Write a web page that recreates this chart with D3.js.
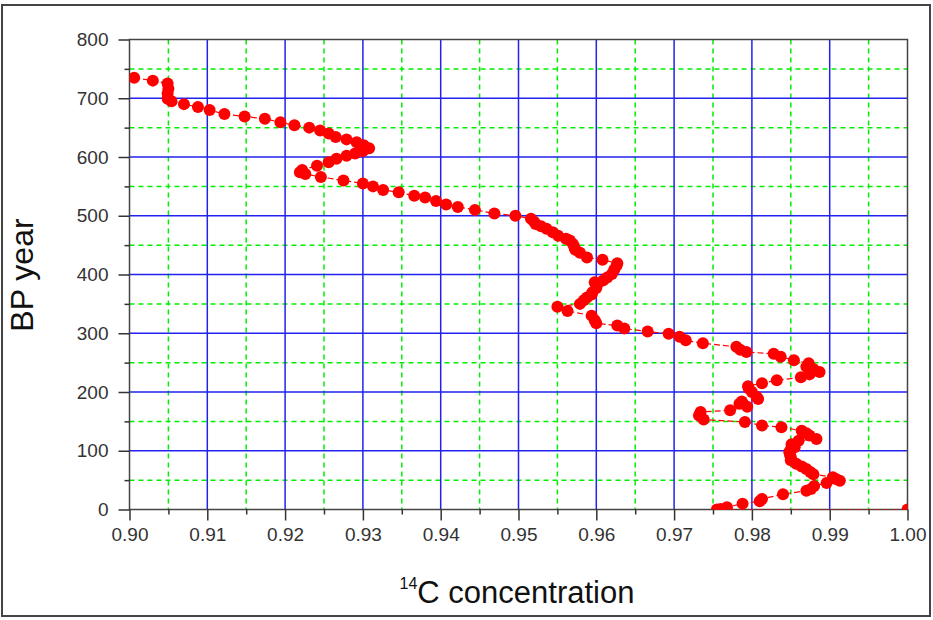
<!DOCTYPE html>
<html>
<head>
<meta charset="utf-8">
<script src="https://cdn.jsdelivr.net/npm/d3@7"></script>
<style>
  body { margin: 0; background: #fff; }
  svg { display: block; font-family: "Liberation Sans", Arial, sans-serif; }
</style>
</head>
<body>
<div id="chart"></div>
<script>
// BP year (oldest first)
var years = [735, 730, 725, 716, 708, 699, 695, 690, 685, 680, 673, 669, 665, 659, 654, 650, 645, 640, 634, 630,
  625, 620, 615, 610, 606, 602, 597, 591, 585, 578, 574, 571, 566, 560, 555, 550, 544, 540, 534, 531,
  525, 519, 515, 510, 504, 500, 495, 490, 486, 482, 478, 472, 466, 461, 458, 452, 446, 442, 437, 429,
  425, 419, 415, 408, 401, 395, 390, 387, 382, 377, 370, 366, 361, 356, 350, 345, 338, 330, 322, 317,
  313, 308, 303, 299, 294, 288, 283, 277, 272, 268, 265, 260, 254, 249, 243, 239, 234, 230, 225, 220,
  215, 210, 206, 200, 192, 188, 184, 180, 175, 169, 166, 160, 153, 149, 143, 140, 134, 130, 126, 120,
  117, 111, 106, 102, 98, 93, 89, 84, 78, 73, 69, 64, 60, 55, 52, 49, 45, 40, 35, 32,
  26, 18, 14, 10, 4, 1, 0, 0];

// 14C concentration
var conc = [0.9006, 0.9030, 0.9049, 0.9050, 0.9049, 0.9049, 0.9054, 0.9070, 0.9088, 0.9103, 0.9122, 0.9148, 0.9174, 0.9194, 0.9212, 0.9231, 0.9245, 0.9256, 0.9265, 0.9279,
  0.9292, 0.9301, 0.9308, 0.9300, 0.9290, 0.9279, 0.9266, 0.9256, 0.9241, 0.9222, 0.9219, 0.9226, 0.9246, 0.9275, 0.9300, 0.9313, 0.9326, 0.9346, 0.9366, 0.9380,
  0.9394, 0.9407, 0.9422, 0.9444, 0.9469, 0.9496, 0.9516, 0.9520, 0.9522, 0.9529, 0.9536, 0.9544, 0.9551, 0.9561, 0.9566, 0.9570, 0.9572, 0.9573, 0.9579, 0.9588,
  0.9608, 0.9627, 0.9626, 0.9623, 0.9620, 0.9614, 0.9609, 0.9598, 0.9601, 0.9600, 0.9595, 0.9594, 0.9588, 0.9584, 0.9579, 0.9550, 0.9563, 0.9594, 0.9598, 0.9600,
  0.9627, 0.9636, 0.9666, 0.9693, 0.9707, 0.9715, 0.9737, 0.9780, 0.9785, 0.9793, 0.9828, 0.9837, 0.9854, 0.9873, 0.9870, 0.9879, 0.9887, 0.9874, 0.9863, 0.9832,
  0.9813, 0.9795, 0.9796, 0.9800, 0.9806, 0.9808, 0.9787, 0.9784, 0.9794, 0.9772, 0.9734, 0.9732, 0.9738, 0.9791, 0.9813, 0.9838, 0.9864, 0.9870, 0.9874, 0.9883,
  0.9860, 0.9851, 0.9855, 0.9850, 0.9848, 0.9849, 0.9850, 0.9850, 0.9857, 0.9864, 0.9870, 0.9875, 0.9879, 0.9904, 0.9908, 0.9913, 0.9896, 0.9880, 0.9876, 0.9870,
  0.9840, 0.9813, 0.9810, 0.9788, 0.9768, 0.9760, 0.9755, 1.0000];

var xMajor = [0.90, 0.91, 0.92, 0.93, 0.94, 0.95, 0.96, 0.97, 0.98, 0.99, 1.00];
var xMinor = [0.905, 0.915, 0.925, 0.935, 0.945, 0.955, 0.965, 0.975, 0.985, 0.995];
var yMajor = [0, 100, 200, 300, 400, 500, 600, 700, 800];
var yMinor = [50, 150, 250, 350, 450, 550, 650, 750];

var width = 933, height = 620;
var pLeft = 129.5, pRight = 907.5, pTop = 39.5, pBottom = 509.5;

var svg = d3.select("#chart").append("svg")
    .attr("width", width)
    .attr("height", height);

// outer frame
svg.append("rect")
    .attr("x", 2).attr("y", 5)
    .attr("width", 928).attr("height", 611)
    .attr("fill", "none")
    .attr("stroke", "#444")
    .attr("stroke-width", 2);

var x = d3.scaleLinear().domain([0.9, 1.0]).range([pLeft, pRight]);
var y = d3.scaleLinear().domain([0, 800]).range([pBottom, pTop]);

// grid: minor green dashed, major blue
var grid = svg.append("g");
grid.selectAll(".gxm").data(xMinor).enter().append("line")
    .attr("x1", function(d) { return x(d); }).attr("x2", function(d) { return x(d); })
    .attr("y1", pTop).attr("y2", pBottom)
    .attr("stroke", "#00ee00").attr("stroke-width", 1.5).attr("stroke-dasharray", "5,4");
grid.selectAll(".gym").data(yMinor).enter().append("line")
    .attr("x1", pLeft).attr("x2", pRight)
    .attr("y1", function(d) { return y(d); }).attr("y2", function(d) { return y(d); })
    .attr("stroke", "#00ee00").attr("stroke-width", 1.5).attr("stroke-dasharray", "5,4");
grid.selectAll(".gxM").data(xMajor.slice(1, -1)).enter().append("line")
    .attr("x1", function(d) { return x(d); }).attr("x2", function(d) { return x(d); })
    .attr("y1", pTop).attr("y2", pBottom)
    .attr("stroke", "#2222ee").attr("stroke-width", 1.5);
grid.selectAll(".gyM").data(yMajor.slice(1, -1)).enter().append("line")
    .attr("x1", pLeft).attr("x2", pRight)
    .attr("y1", function(d) { return y(d); }).attr("y2", function(d) { return y(d); })
    .attr("stroke", "#2222ee").attr("stroke-width", 1.5);

// plot box
svg.append("rect")
    .attr("x", pLeft).attr("y", pTop)
    .attr("width", pRight - pLeft).attr("height", pBottom - pTop)
    .attr("fill", "none").attr("stroke", "#444").attr("stroke-width", 1.5);

// axes
function styleAxis(g) {
  g.select(".domain").remove();
  g.selectAll(".tick line").attr("stroke", "#333").attr("stroke-width", 1.5);
  g.selectAll(".tick text").attr("fill", "#333").style("font-size", "19px")
      .style("font-family", "'Liberation Sans', Arial, sans-serif");
}

svg.append("g").attr("transform", "translate(0," + pBottom + ")")
    .call(d3.axisBottom(x).tickValues(xMajor).tickSize(11).tickPadding(7).tickFormat(d3.format(".2f")))
    .call(styleAxis);
svg.append("g").attr("transform", "translate(0," + pBottom + ")")
    .call(d3.axisBottom(x).tickValues(xMinor).tickSize(5).tickFormat(""))
    .call(styleAxis);
svg.append("g").attr("transform", "translate(" + pLeft + ",0)")
    .call(d3.axisLeft(y).tickValues(yMajor).tickSize(11).tickPadding(10))
    .call(styleAxis);
svg.append("g").attr("transform", "translate(" + pLeft + ",0)")
    .call(d3.axisLeft(y).tickValues(yMinor).tickSize(5).tickFormat(""))
    .call(styleAxis);

// data
svg.append("clipPath").attr("id", "clip").append("rect")
    .attr("x", pLeft).attr("y", pTop)
    .attr("width", pRight - pLeft).attr("height", pBottom - pTop);

var data = years.map(function(t, i) { return { year: t, c: conc[i] }; });
var plot = svg.append("g").attr("clip-path", "url(#clip)");

plot.append("path")
    .datum(data)
    .attr("fill", "none")
    .attr("stroke", "#ff0000")
    .attr("stroke-width", 1.2)
    .attr("stroke-dasharray", "6,3")
    .attr("d", d3.line().x(function(d) { return x(d.c); }).y(function(d) { return y(d.year); }));

plot.selectAll("circle")
    .data(data)
    .enter()
    .append("circle")
    .attr("cx", function(d) { return x(d.c); })
    .attr("cy", function(d) { return y(d.year); })
    .attr("r", 6)
    .attr("fill", "#ff0000");

// titles
svg.append("text")
    .attr("transform", "translate(33,275) rotate(-90)")
    .attr("text-anchor", "middle")
    .attr("fill", "#111")
    .style("font-size", "32px")
    .text("BP year");

var xt = svg.append("text")
    .attr("x", 517).attr("y", 603)
    .attr("text-anchor", "middle")
    .attr("fill", "#111")
    .style("font-size", "31px");
xt.append("tspan").attr("dy", "-14").style("font-size", "16px").text("14");
xt.append("tspan").attr("dy", "14").text("C concentration");
</script>
</body>
</html>
